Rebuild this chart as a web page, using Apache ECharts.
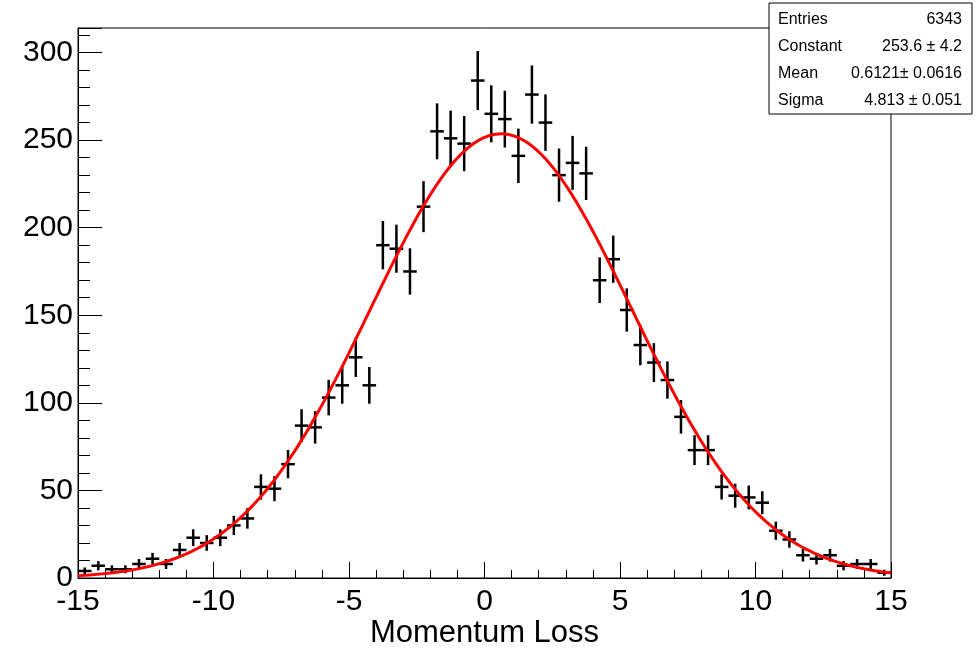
<!DOCTYPE html>
<html>
<head>
<meta charset="utf-8">
<script src="https://cdn.jsdelivr.net/npm/echarts@6/dist/echarts.min.js"></script>
<style>
html, body { margin: 0; padding: 0; background: #fff; }
#chart { width: 980px; height: 648px; }
</style>
</head>
<body>
<div id="chart"></div>
<script>
// histogram: 60 bins of 0.5 from -15 to 15
const binLow = -15
const binWidth = 0.5
const counts = [4, 7, 5, 5, 8, 11, 8, 16, 23, 20, 23, 30, 34, 52, 51,
    65, 87, 86, 103, 110, 126, 110, 190, 188, 175, 212, 255, 251, 248, 284,
    265, 262, 241, 276, 260, 230, 237, 231, 170, 182, 153, 133, 123, 113, 92,
    73, 73, 52, 47, 46, 43, 27, 22, 13, 11, 13, 7, 8, 8, 3]

// gaus fit result (from the stat box)
const fitConstant = 253.6
const fitMean = 0.6121
const fitSigma = 4.813

const statLabels = ['Entries', 'Constant', 'Mean', 'Sigma']
const statValues = ['6343', '253.6 \u00b1 4.2', '0.6121\u00b1 0.0616', '4.813 \u00b1 0.051']

const xTicks = [-15, -10, -5, 0, 5, 10, 15]
const yMax = 314

const font = '"Liberation Sans", Arial, Helvetica, sans-serif'

const histData = counts.map((c, i) => [binLow + binWidth * (i + 0.5), c])

const fitData = []
for (let k = 0; k <= 300; k++) {
    const x = -15 + k * 0.1
    fitData.push([x, fitConstant * Math.exp(-0.5 * Math.pow((x - fitMean) / fitSigma, 2))])
}

const statRows = []
statLabels.forEach((lab, i) => {
    const y = 20 + i * 26.7
    statRows.push({ type: 'text', x: 778, y: y, style: { text: lab, font: '16px ' + font, fill: '#000', verticalAlign: 'middle' } })
    statRows.push({ type: 'text', x: 962, y: y, style: { text: statValues[i], font: '16px ' + font, fill: '#000', textAlign: 'right', verticalAlign: 'middle' } })
})

const chart = echarts.init(document.getElementById('chart'))
chart.setOption({
    animation: false,
    backgroundColor: '#fff',
    grid: { left: 78, right: 89, top: 28, bottom: 70, outerBoundsMode: 'none', containLabel: false,
        show: true, borderColor: '#000', borderWidth: 1, backgroundColor: 'transparent' },
    xAxis: {
        type: 'value', min: -15, max: 15, interval: 5,
        name: 'Momentum Loss', nameLocation: 'middle', nameGap: 40, nameMoveOverlap: false,
        nameTextStyle: { fontFamily: font, fontSize: 31, color: '#000' },
        axisLine: { onZero: false, lineStyle: { color: '#000', width: 1 } },
        axisTick: { inside: true, length: 16, lineStyle: { color: '#000' } },
        minorTick: { show: true, splitNumber: 5, length: 8, lineStyle: { color: '#000' } },
        axisLabel: { fontFamily: font, fontSize: 30, color: '#000', margin: 9,
            formatter: v => xTicks.includes(v) ? String(v) : '' },
        splitLine: { show: false }
    },
    yAxis: {
        type: 'value', min: 0, max: yMax, interval: 50,
        axisLine: { show: true, onZero: false, lineStyle: { color: '#000', width: 1 } },
        axisTick: { inside: true, length: 24, lineStyle: { color: '#000' } },
        minorTick: { show: true, splitNumber: 5, length: 12, lineStyle: { color: '#000' } },
        axisLabel: { fontFamily: font, fontSize: 30, color: '#000', margin: 5, showMaxLabel: false },
        splitLine: { show: false }
    },
    series: [
        {
            type: 'custom',
            data: histData,
            z: 2,
            renderItem: (params, api) => {
                const x = api.value(0), y = api.value(1)
                const err = Math.sqrt(y)
                const top = api.coord([x, y + err])
                const bot = api.coord([x, Math.max(0, y - err)])
                const l = api.coord([x - binWidth / 2, y])
                const r = api.coord([x + binWidth / 2, y])
                const st = { stroke: '#000', lineWidth: 2.5 }
                return {
                    type: 'group',
                    children: [
                        { type: 'line', shape: { x1: top[0], y1: top[1], x2: bot[0], y2: bot[1] }, style: st },
                        { type: 'line', shape: { x1: l[0], y1: l[1], x2: r[0], y2: r[1] }, style: st }
                    ]
                }
            }
        },
        {
            type: 'line',
            data: fitData,
            showSymbol: false,
            z: 3,
            lineStyle: { color: '#f00', width: 3 }
        }
    ],
    graphic: [
        {
            type: 'group',
            z: 100,
            children: [
                { type: 'rect', shape: { x: 769, y: 3, width: 203, height: 111 }, style: { fill: '#fff', stroke: '#000', lineWidth: 1 } }
            ].concat(statRows)
        }
    ]
})
</script>
</body>
</html>
